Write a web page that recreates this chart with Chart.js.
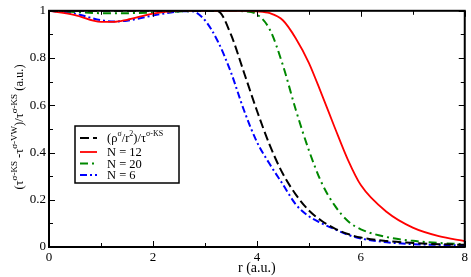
<!DOCTYPE html>
<html>
<head>
<meta charset="utf-8">
<script src="https://cdn.jsdelivr.net/npm/chart.js@4"></script>
<style>
  html, body { margin: 0; padding: 0; background: #fff; }
  #wrap { width: 471px; height: 277px; position: relative; }
</style>
</head>
<body>
<div id="wrap"><canvas id="c"></canvas></div>
<script>
// ---- data ----
const rValues = [0, 0.5, 1, 1.25, 1.5, 2, 2.5, 2.75, 3, 3.25, 3.5, 3.75, 4, 4.25, 4.5, 4.75, 5, 5.25, 5.5, 5.75, 6, 6.5, 7, 7.5, 8];
const ratioRho = [1, 1, 1, 1, 1, 1, 1, 1, 1, 0.998, 0.9, 0.74, 0.578, 0.43, 0.31, 0.222, 0.155, 0.11, 0.078, 0.055, 0.04, 0.025, 0.017, 0.012, 0.009];
const n12 = [1, 0.982, 0.953, 0.953, 0.962, 0.988, 1, 1, 1, 1, 1, 1, 0.998, 0.99, 0.96, 0.883, 0.78, 0.645, 0.505, 0.37, 0.262, 0.148, 0.082, 0.046, 0.025];
const n20 = [1, 0.995, 0.99, 0.99, 0.99, 0.993, 0.997, 0.999, 1, 1, 1, 0.998, 0.985, 0.92, 0.77, 0.58, 0.41, 0.27, 0.175, 0.11, 0.075, 0.042, 0.026, 0.017, 0.012];
const n6 = [1, 0.988, 0.96, 0.955, 0.958, 0.98, 0.997, 0.998, 0.96, 0.87, 0.74, 0.58, 0.445, 0.35, 0.265, 0.18, 0.13, 0.1, 0.075, 0.052, 0.036, 0.02, 0.012, 0.009, 0.007];
const seriesLabels = ['(ρ^{σ}/r^{2})/τ^{σ-KS}', 'N = 12', 'N = 20', 'N = 6'];
const xTickValues = [0, 2, 4, 6, 8];
const yTickValues = [0, 0.2, 0.4, 0.6, 0.8, 1];
const xTitle = 'r (a.u.)';
const yTitle = '(τ^{σ-KS} -τ^{σ-VW})/τ^{σ-KS} (a.u.)';

const SERIF = '"Liberation Serif", "DejaVu Serif", serif';

function toPoints(ys) { return rValues.map((r, i) => ({ x: r, y: ys[i] })); }

// parse "a^{b}c" into segments
function parseRich(s) {
  const segs = [];
  let i = 0, buf = '';
  while (i < s.length) {
    if (s[i] === '^' && s[i + 1] === '{') {
      if (buf) { segs.push({ t: buf, sup: false }); buf = ''; }
      const j = s.indexOf('}', i);
      segs.push({ t: s.slice(i + 2, j), sup: true });
      i = j + 1;
    } else { buf += s[i]; i++; }
  }
  if (buf) segs.push({ t: buf, sup: false });
  return segs;
}
function richWidth(ctx, segs, size, supSize) {
  let w = 0;
  segs.forEach(sg => { ctx.font = (sg.sup ? supSize : size) + 'px ' + SERIF; w += ctx.measureText(sg.t).width; });
  return w;
}
function drawRich(ctx, segs, x, y, size, supSize, raise) {
  let cx = x;
  segs.forEach(sg => {
    ctx.font = (sg.sup ? supSize : size) + 'px ' + SERIF;
    ctx.fillText(sg.t, cx, sg.sup ? y - raise : y);
    cx += ctx.measureText(sg.t).width;
  });
}

const framePlugin = {
  id: 'frame',
  afterDatasetsDraw(chart) {
    const { ctx, chartArea: a, scales } = chart;
    const xs = scales.x, ys = scales.y;
    ctx.save();
    ctx.strokeStyle = '#000';
    ctx.lineWidth = 1;
    const majX = xTickValues, minX = [1, 3, 5, 7];
    const majY = yTickValues, minY = [0.1, 0.3, 0.5, 0.7, 0.9];
    ctx.beginPath();
    function vt(v, len) {
      const p = Math.round(xs.getPixelForValue(v)) + 0.5;
      ctx.moveTo(p, a.bottom); ctx.lineTo(p, a.bottom - len);
      ctx.moveTo(p, a.top); ctx.lineTo(p, a.top + len);
    }
    function ht(v, len) {
      const p = Math.round(ys.getPixelForValue(v)) + 0.5;
      ctx.moveTo(a.left, p); ctx.lineTo(a.left + len, p);
      ctx.moveTo(a.right, p); ctx.lineTo(a.right - len, p);
    }
    majX.forEach(v => vt(v, 6)); minX.forEach(v => vt(v, 4));
    majY.forEach(v => ht(v, 6)); minY.forEach(v => ht(v, 4));
    ctx.stroke();
    ctx.lineWidth = 2;
    ctx.strokeRect(a.left, a.top, a.right - a.left, a.bottom - a.top);
    ctx.restore();
  }
};

const legendPlugin = {
  id: 'boxLegend',
  afterDraw(chart) {
    const ctx = chart.ctx;
    ctx.save();
    const bx = 75, by = 126, bw = 104, bh = 57;
    ctx.fillStyle = '#fff';
    ctx.fillRect(bx, by, bw, bh);
    ctx.strokeStyle = '#000';
    ctx.lineWidth = 1.5;
    ctx.strokeRect(bx, by, bw, bh);
    const rows = [138, 152, 163.5, 175];
    chart.data.datasets.forEach((ds, i) => {
      const y = rows[i];
      ctx.strokeStyle = ds.borderColor;
      ctx.lineWidth = ds.borderWidth;
      ctx.setLineDash(ds.borderDash || []);
      ctx.beginPath();
      ctx.moveTo(80, y); ctx.lineTo(97, y);
      ctx.stroke();
      ctx.setLineDash([]);
      ctx.fillStyle = '#000';
      ctx.textBaseline = 'middle';
      ctx.textAlign = 'left';
      drawRich(ctx, parseRich(ds.label), 107, y + 1, 12.5, 8, 5);
    });
    ctx.restore();
  }
};

const yTitlePlugin = {
  id: 'yTitle',
  afterDraw(chart) {
    const ctx = chart.ctx;
    const segs = parseRich(yTitle);
    ctx.save();
    ctx.translate(18, 127);
    ctx.rotate(-Math.PI / 2);
    ctx.fillStyle = '#000';
    ctx.textBaseline = 'middle';
    ctx.textAlign = 'left';
    const w = richWidth(ctx, segs, 12.5, 9);
    drawRich(ctx, segs, -w / 2, 2, 12.5, 9, 5);
    ctx.restore();
  }
};

new Chart(document.getElementById('c'), {
  type: 'line',
  data: {
    datasets: [
      { label: seriesLabels[0], data: toPoints(ratioRho), borderColor: '#000000', borderWidth: 2, borderDash: [9, 4] },
      { label: seriesLabels[1], data: toPoints(n12), borderColor: '#ff0000', borderWidth: 1.8 },
      { label: seriesLabels[2], data: toPoints(n20), borderColor: '#008800', borderWidth: 2, borderDash: [8, 4, 2, 4] },
      { label: seriesLabels[3], data: toPoints(n6), borderColor: '#0000ff', borderWidth: 2, borderDash: [7, 3, 2, 3] }
    ]
  },
  options: {
    responsive: true,
    maintainAspectRatio: false,
    animation: false,
    devicePixelRatio: 1,
    layout: { padding: { top: 5, right: 5, left: 0, bottom: 0 } },
    elements: { point: { radius: 0 }, line: { cubicInterpolationMode: 'monotone', fill: false } },
    plugins: { legend: { display: false }, tooltip: { enabled: false } },
    scales: {
      x: {
        type: 'linear', min: 0, max: 8,
        afterFit(s) { s.height = 30; },
        afterBuildTicks(s) { s.ticks = xTickValues.map(v => ({ value: v })); },
        grid: { display: false, drawTicks: false },
        border: { display: false },
        ticks: { padding: 3, color: '#000', font: { family: SERIF, size: 13 }, maxRotation: 0, callback: v => String(v) },
        title: { display: true, text: xTitle, color: '#000', font: { family: SERIF, size: 14 }, padding: { top: 0, bottom: 0 } }
      },
      y: {
        type: 'linear', min: 0, max: 1,
        afterFit(s) { s.width = 49; },
        afterBuildTicks(s) { s.ticks = yTickValues.map(v => ({ value: v })); },
        grid: { display: false, drawTicks: false },
        border: { display: false },
        ticks: { padding: 3, color: '#000', font: { family: SERIF, size: 13 }, callback: v => String(Math.round(v * 10) / 10) }
      }
    }
  },
  plugins: [framePlugin, legendPlugin, yTitlePlugin]
});
</script>
</body>
</html>
